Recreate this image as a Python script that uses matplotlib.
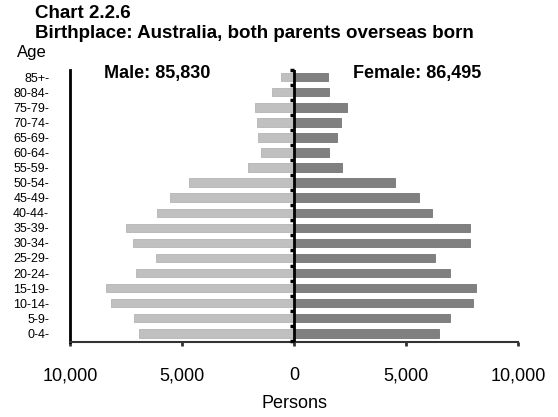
import matplotlib.pyplot as plt
from matplotlib.ticker import FuncFormatter

plt.rcParams['font.family'] = ['Liberation Sans', 'DejaVu Sans']

# data (persons)
age_groups = ['0-4', '5-9', '10-14', '15-19', '20-24', '25-29', '30-34', '35-39',
              '40-44', '45-49', '50-54', '55-59', '60-64', '65-69', '70-74',
              '75-79', '80-84', '85+']
male = [6930, 7130, 8170, 8380, 7040, 6150, 7190, 7500, 6140, 5520, 4670,
        2060, 1480, 1630, 1680, 1730, 970, 600]
female = [6450, 6960, 7960, 8130, 6940, 6260, 7860, 7830, 6130, 5580, 4480,
          2150, 1560, 1910, 2090, 2360, 1560, 1510]
male_total = '85,830'
female_total = '86,495'

fig = plt.figure(figsize=(5.58, 4.17), dpi=100)
ax = fig.add_axes([0.1254, 0.1787, 0.8036, 0.6535])

y = list(range(len(age_groups)))
ax.barh(y, [-m for m in male], height=0.56, color='#c0c0c0',
        edgecolor='#b4b4b4', linewidth=0.6)
ax.barh(y, female, height=0.56, color='#808080',
        edgecolor='#747474', linewidth=0.6)

# zero line with small ticks between age groups
ax.axvline(0, color='black', lw=2, zorder=3)
bounds = [i + 0.5 for i in range(-1, len(age_groups))]
ax.plot([0] * len(bounds), bounds, linestyle='none', marker=0,
        markersize=3, mew=2.5, color='black', zorder=4, clip_on=False)

ax.set_xlim(-10000, 10000)
ax.set_ylim(-0.61, 17.48)

ax.set_yticks(y)
ax.set_yticklabels([a + '-' for a in age_groups], fontsize=9)
ax.tick_params(axis='y', length=0, pad=15)

ax.set_xticks([-10000, -5000, 0, 5000, 10000])
ax.xaxis.set_major_formatter(FuncFormatter(lambda v, p: f'{abs(int(v)):,}'))
ax.tick_params(axis='x', direction='out', length=3, width=2, labelsize=13,
               pad=15, color='#333333')
ax.set_xlabel('Persons', fontsize=13, labelpad=7.5)

for s in ['top', 'right']:
    ax.spines[s].set_visible(False)
ax.spines['left'].set_linewidth(2)
ax.spines['left'].set_color('black')
ax.spines['bottom'].set_linewidth(1.5)
ax.spines['bottom'].set_color('#333333')

ax.text(-8500, 17.27, 'Male: ' + male_total, fontsize=13, fontweight='bold',
        va='center', ha='left')
ax.text(2640, 17.27, 'Female: ' + female_total, fontsize=13, fontweight='bold',
        va='center', ha='left')

fig.text(0.063, 0.956, 'Chart 2.2.6', fontsize=13.5, fontweight='bold',
         va='baseline')
fig.text(0.063, 0.910, 'Birthplace: Australia, both parents overseas born',
         fontsize=13.5, fontweight='bold', va='baseline')
fig.text(0.030, 0.864, 'Age', fontsize=12, va='baseline')

plt.savefig('out.png', dpi=100)
